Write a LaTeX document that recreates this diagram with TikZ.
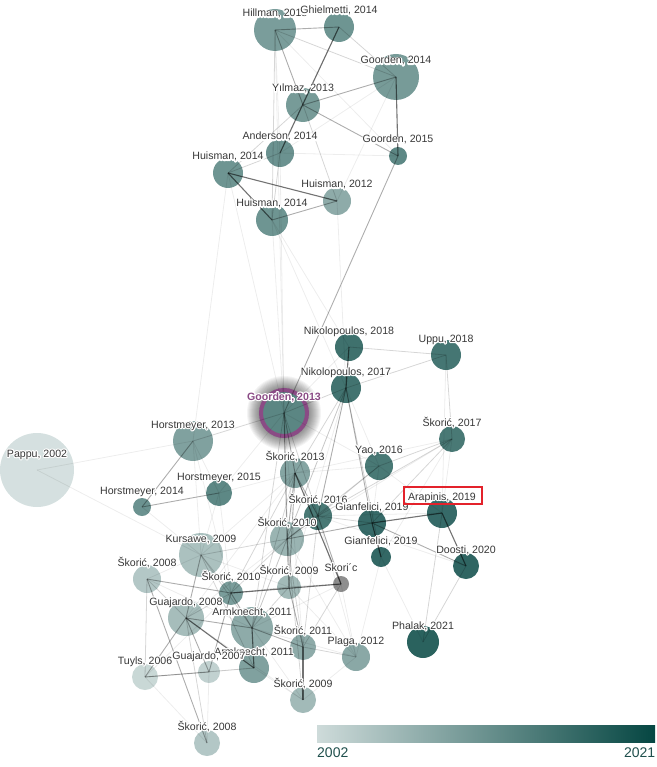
\documentclass[tikz,border=0pt]{standalone}
\usepackage{fontspec}
\setmainfont{Liberation Sans}
\usetikzlibrary{calc}
\definecolor{tlight}{HTML}{CEDBDA}
\definecolor{tdark}{HTML}{054642}
\definecolor{labc}{HTML}{383838}
\definecolor{ringc}{HTML}{8A4B85}
\definecolor{boxred}{HTML}{E3222B}
\definecolor{barlab}{HTML}{1F4F4C}
\definecolor{graynode}{HTML}{7A7A7A}
\newcommand\halo[1]{\leavevmode\rlap{\special{pdf:literal direct 1 Tr 2.4 w 1 j 1 1 1 RG}#1}\special{pdf:literal direct 0 Tr}#1}
\tikzset{
  pn/.style={circle, inner sep=0pt, draw=none, minimum size=#1*2pt},
  yc/.style={fill=tdark!#1!tlight, fill opacity=0.85},
  ed/.style={draw=black, draw opacity=0.55, line width=1.1pt},
  em/.style={draw=black, draw opacity=0.32, line width=0.9pt},
  el/.style={draw=black, draw opacity=0.16, line width=0.8pt},
  ef/.style={draw=black, draw opacity=0.07, line width=0.8pt},
  lab/.style={anchor=base, inner sep=0pt, font=\fontsize{10.6pt}{12pt}\selectfont, text=labc},
}
\newcommand\plab[3][]{\node[lab,#1] (#2-l) at ([yshift=13pt]#2.center) {\halo{#3}};}
\begin{document}
\begin{tikzpicture}[x=1pt,y=-1pt]
\useasboundingbox (0,0) rectangle (656,767);
% shadow of Goorden 2013
\coordinate (g13c) at (284,413);
\foreach \r in {25,...,37} \fill[black, opacity=0.045] (g13c) circle (\r pt);
% nodes
\node[pn=21, yc=53] (hil) at (275,30) {};
\node[pn=15, yc=60] (ghi) at (339,27) {};
\node[pn=23, yc=55] (goo14) at (396,77) {};
\node[pn=17, yc=55] (yil) at (303,105) {};
\node[pn=14, yc=62] (and) at (280,153) {};
\node[pn=9, yc=70] (goo15) at (398,156) {};
\node[pn=15, yc=60] (hui14a) at (228,173) {};
\node[pn=14, yc=42] (hui12) at (337,201) {};
\node[pn=16, yc=60] (hui14b) at (272,220) {};
\node[pn=14, yc=88] (nik18) at (349,347) {};
\node[pn=15, yc=84] (uppu) at (446,355) {};
\node[pn=15, yc=86] (nik17) at (346,388) {};
\node[pn=23, draw=ringc, line width=4pt, fill=tdark!57!tlight] (goo13) at (g13c) {};
\node[pn=20, yc=50] (hor13) at (193,441) {};
\node[pn=13, yc=82] (sko17) at (452,439) {};
\node[pn=14, yc=82] (yao) at (379,466) {};
\node[pn=15, yc=47] (sko13) at (295,473) {};
\node[pn=13, yc=70] (hor15) at (219,493) {};
\node[pn=9, yc=62] (hor14) at (142,507) {};
\node[pn=37, yc=0] (pappu) at (37,470) {};
\node[pn=15, yc=93] (arap) at (442,513) {};
\node[pn=14, yc=93] (gian1) at (372,523) {};
\node[pn=14, yc=82] (sko16) at (318,516) {};
\node[pn=10, yc=95] (gian2) at (381,557) {};
\node[pn=13, yc=97] (doosti) at (466,566) {};
\node[pn=8, fill=graynode, fill opacity=0.85] (skoc) at (341,584) {};
\node[pn=16, yc=100] (phalak) at (423,642) {};
\node[pn=14, yc=44] (plaga) at (356,657) {};
\node[pn=17, yc=35] (sko10a) at (287,539) {};
\node[pn=22, yc=25] (kurs) at (201,555) {};
\node[pn=14, yc=20] (sko08a) at (147,579) {};
\node[pn=12, yc=53] (sko10b) at (231,593) {};
\node[pn=12, yc=30] (sko09a) at (289,587) {};
\node[pn=18, yc=28] (guaj08) at (186,618) {};
\node[pn=21, yc=42] (arm11a) at (252,628) {};
\node[pn=13, yc=42] (sko11) at (303,647) {};
\node[pn=15, yc=50] (arm11b) at (254,668) {};
\node[pn=11, yc=12] (guaj07) at (209,672) {};
\node[pn=13, yc=7] (tuyls) at (145,677) {};
\node[pn=13, yc=30] (sko09b) at (303,700) {};
\node[pn=13, yc=20] (sko08b) at (207,743) {};
% edges
\foreach \a/\b in {hil/and, hil/goo15, ghi/yil, goo14/hui12, goo14/and, yil/and, and/goo15,
  hui14b/goo13, hui14b/nik17, hui14b/nik18, hui12/nik17, and/goo13, hui14a/hor13, hil/goo13, hui14a/goo13,
  goo13/nik18, goo13/yao, goo13/sko11, goo13/hor15, hor13/hor15, hor13/kurs, pappu/hor13, pappu/kurs,
  nik17/yao, sko17/sko13, sko17/sko10a, yao/sko13, yao/gian1, yao/arap, sko13/hor15, skoc/plaga, skoc/arm11a,
  kurs/sko08a, tuyls/sko08b, guaj07/sko08b, guaj07/arm11b, arm11a/plaga, arm11b/sko09b, sko09b/plaga,
  hor15/kurs, hor15/sko10b, hor14/kurs, nik17/sko09a, nik17/arm11a, sko17/gian2, uppu/arap, sko16/plaga,
  gian2/phalak, gian2/plaga, sko10a/plaga, sko13/guaj08, sko13/kurs, hor13/sko10b, sko09a/plaga, arm11a/sko09b,
  guaj08/sko09b, tuyls/sko10b, sko08a/arm11a, kurs/sko09a, sko10a/guaj08, arap/sko16, doosti/sko16, sko17/arap}
  \draw[ef] (\a.center) -- (\b.center);
\foreach \a/\b in {hil/goo14, hil/hui14b, ghi/goo14, yil/hui14a, yil/hui12, and/hui14a, and/hui14b,
  nik18/uppu, nik17/uppu, uppu/sko17, goo13/hor13, goo13/nik17, goo13/sko09a, goo13/sko16, goo13/arm11a,
  nik17/gian2, nik17/sko13, nik17/sko10a, sko17/yao, sko17/sko16, sko17/gian1, yao/sko16, yao/sko10a,
  arap/phalak, doosti/phalak, gian1/sko16, sko13/sko10b, sko13/arm11a, sko16/sko11, skoc/sko09a, skoc/sko11,
  sko10a/sko10b, sko10a/kurs, sko10a/arm11a, sko10a/sko11, sko10a/sko09b, kurs/sko10b, kurs/arm11a, kurs/arm11b,
  sko08a/tuyls, sko08a/guaj08, sko10b/guaj08, sko10b/sko09a, sko09a/arm11a, guaj08/sko08b, tuyls/arm11b, sko11/plaga}
  \draw[el] (\a.center) -- (\b.center);
\foreach \a/\b in {hil/ghi, hil/yil, goo14/yil, yil/goo15, hui14b/hui12, goo15/goo13, goo13/sko13, goo13/sko10a,
  hor13/hor14, hor14/hor15, nik17/sko16, nik17/gian1, gian1/sko10a, gian1/doosti, sko13/sko16, sko13/sko10a,
  sko13/sko09a, sko16/skoc, sko16/sko10a, sko10a/sko09a, kurs/guaj08, sko08a/sko10b, sko08a/sko08b, sko10b/arm11a,
  sko10b/guaj07, sko09a/sko11, guaj08/tuyls, guaj08/guaj07, guaj08/arm11a, tuyls/guaj07, arm11a/sko11}
  \draw[em] (\a.center) -- (\b.center);
\foreach \a/\b in {ghi/and, goo14/goo15, hui14a/hui12, hui14a/hui14b, nik18/nik17, arap/gian1, arap/doosti,
  gian1/gian2, sko13/skoc, skoc/sko10b, guaj08/arm11b, arm11a/arm11b, sko11/sko09b}
  \draw[ed] (\a.center) -- (\b.center);
% labels
\plab{hil}{Hillman, 2013}
\plab{ghi}{Ghielmetti, 2014}
\plab{goo14}{Goorden, 2014}
\plab{yil}{Yılmaz, 2013}
\plab{and}{Anderson, 2014}
\plab{goo15}{Goorden, 2015}
\plab{hui14a}{Huisman, 2014}
\plab{hui12}{Huisman, 2012}
\plab{hui14b}{Huisman, 2014}
\plab{nik18}{Nikolopoulos, 2018}
\plab{uppu}{Uppu, 2018}
\plab{nik17}{Nikolopoulos, 2017}
\plab[text=ringc, font=\fontsize{10.6pt}{12pt}\selectfont\bfseries]{goo13}{Goorden, 2013}
\plab{hor13}{Horstmeyer, 2013}
\plab{sko17}{Škorić, 2017}
\plab{yao}{Yao, 2016}
\plab{sko13}{Škorić, 2013}
\plab{hor15}{Horstmeyer, 2015}
\plab{hor14}{Horstmeyer, 2014}
\plab{pappu}{Pappu, 2002}
\plab{arap}{Arapinis, 2019}
\plab{sko16}{Škorić, 2016}
\plab{gian1}{Gianfelici, 2019}
\plab{gian2}{Gianfelici, 2019}
\plab{doosti}{Doosti, 2020}
\plab{skoc}{Skori´c}
\plab{phalak}{Phalak, 2021}
\plab{plaga}{Plaga, 2012}
\plab{sko10a}{Škorić, 2010}
\plab{kurs}{Kursawe, 2009}
\plab{sko08a}{Škorić, 2008}
\plab{sko10b}{Škorić, 2010}
\plab{sko09a}{Škorić, 2009}
\plab{guaj08}{Guajardo, 2008}
\plab{arm11a}{Armknecht, 2011}
\plab{sko11}{Škorić, 2011}
\plab{arm11b}{Armknecht, 2011}
\plab{guaj07}{Guajardo, 2007}
\plab{tuyls}{Tuyls, 2006}
\plab{sko09b}{Škorić, 2009}
\plab{sko08b}{Škorić, 2008}
\node[draw=boxred, line width=2pt, inner sep=0pt, minimum width=78pt, minimum height=17pt] (arapbox) at (443,495.5) {};
% colour bar
\node[draw=none, inner sep=0pt, minimum width=338pt, minimum height=17pt, left color=tlight, right color=tdark, anchor=north west] (bar) at (317,725) {};
\node[anchor=base west, inner sep=0pt, text=barlab, font=\fontsize{14pt}{16pt}\selectfont] (barlo) at ([yshift=-15pt]bar.south west) {2002};
\node[anchor=base east, inner sep=0pt, text=barlab, font=\fontsize{14pt}{16pt}\selectfont] (barhi) at ([yshift=-15pt]bar.south east) {2021};
\end{tikzpicture}
\end{document}
